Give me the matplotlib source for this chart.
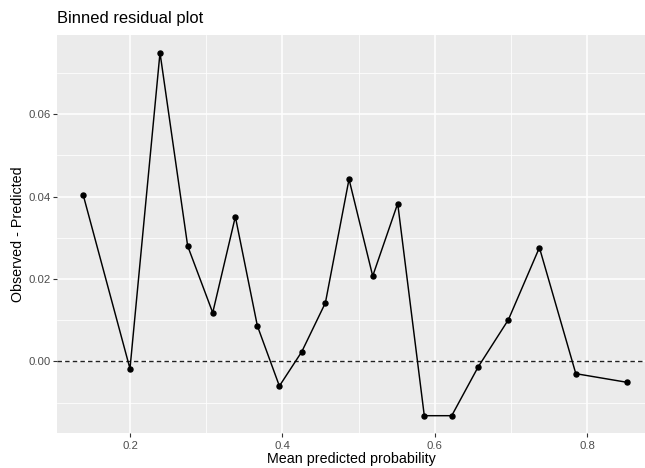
import matplotlib
matplotlib.use("Agg")
import matplotlib.pyplot as plt
from matplotlib.ticker import MultipleLocator

# binned residuals: mean predicted prob vs observed - predicted
mean_pred = [0.1387, 0.2000, 0.2394, 0.2757, 0.3086, 0.3383, 0.3672, 0.3961,
             0.4254, 0.4565, 0.4875, 0.5186, 0.5514, 0.5863, 0.6223, 0.6569,
             0.6967, 0.7374, 0.7852, 0.8525]
resid = [0.0403, -0.0018, 0.0749, 0.0280, 0.0118, 0.0351, 0.0086, -0.0060,
         0.0023, 0.0142, 0.0442, 0.0207, 0.0383, -0.0132, -0.0132, -0.0014,
         0.0101, 0.0276, -0.0030, -0.0051]
x_ticks = [0.2, 0.4, 0.6, 0.8]
y_ticks = [0.00, 0.02, 0.04, 0.06]

plt.rcParams['font.family'] = ['Liberation Sans', 'DejaVu Sans']

fig = plt.figure(figsize=(6.45, 4.68), dpi=100)
ax = fig.add_axes([57 / 645, 1 - 433 / 468, 1 - 57 / 645, (433 - 35) / 468])
ax.set_facecolor('#EBEBEB')

ax.set_xlim(0.1042, 0.876)
ax.set_ylim(-0.0174, 0.0792)
ax.set_xticks(x_ticks)
ax.set_yticks(y_ticks)
ax.xaxis.set_minor_locator(MultipleLocator(0.1))
ax.yaxis.set_minor_locator(MultipleLocator(0.01))
ax.xaxis.set_major_formatter(plt.FuncFormatter(lambda v, p: '%g' % v))
ax.yaxis.set_major_formatter(plt.FuncFormatter(lambda v, p: '%.2f' % v))

ax.grid(True, which='major', color='white', linewidth=1.1)
ax.grid(True, which='minor', color='white', linewidth=0.55)
ax.set_axisbelow(True)
for s in ax.spines.values():
    s.set_visible(False)

ax.tick_params(which='major', length=3, width=0.8, color='#333333',
               labelcolor='#4D4D4D', labelsize=8.2)
ax.tick_params(axis='x', pad=2.6)
ax.tick_params(axis='y', pad=1.3)
ax.tick_params(which='minor', length=0)

ax.axhline(0, color='#222222', linestyle=(0, (3.2, 2.3)), linewidth=1.0, zorder=2)
ax.plot(mean_pred, resid, color='black', linewidth=1.05, zorder=3)
ax.plot(mean_pred, resid, 'o', color='black', markersize=3.6, zorder=4)

ax.set_xlabel('Mean predicted probability', fontsize=10.3, labelpad=1)
ax.set_ylabel('Observed - Predicted', fontsize=10.3, labelpad=3)
fig.text(57 / 645, 1 - 19 / 468, 'Binned residual plot', fontsize=11.9,
         ha='left', va='center')

fig.savefig('out.png', dpi=100)
